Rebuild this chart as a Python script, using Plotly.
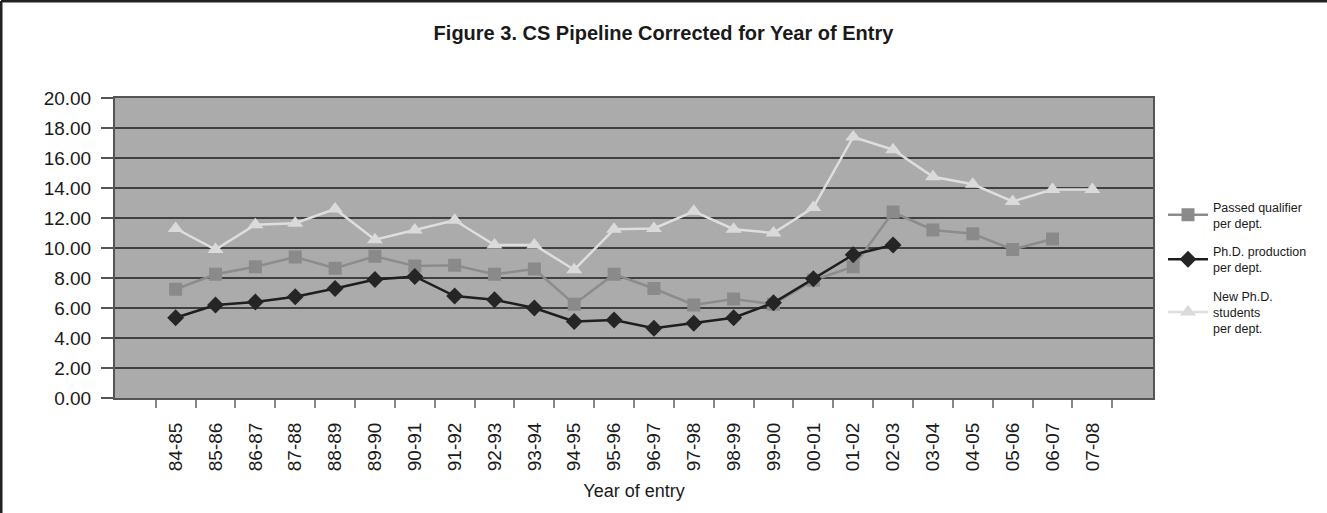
import plotly.graph_objects as go

categories = ["84-85", "85-86", "86-87", "87-88", "88-89", "89-90", "90-91", "91-92",
              "92-93", "93-94", "94-95", "95-96", "96-97", "97-98", "98-99", "99-00",
              "00-01", "01-02", "02-03", "03-04", "04-05", "05-06", "06-07", "07-08"]

passed_qualifier = [7.25, 8.25, 8.75, 9.4, 8.65, 9.45, 8.8, 8.85,
                    8.25, 8.6, 6.25, 8.25, 7.3, 6.2, 6.6, 6.25,
                    7.85, 8.75, 12.4, 11.2, 10.95, 9.9, 10.6, None]

phd_production = [5.35, 6.2, 6.4, 6.75, 7.3, 7.9, 8.1, 6.8,
                  6.55, 6.0, 5.1, 5.2, 4.65, 4.98, 5.35, 6.35,
                  7.95, 9.55, 10.2, None, None, None, None, None]

new_phd_students = [11.3, 9.9, 11.55, 11.65, 12.6, 10.55, 11.2, 11.85,
                    10.2, 10.2, 8.55, 11.25, 11.3, 12.45, 11.25, 11.0,
                    12.7, 17.4, 16.55, 14.75, 14.25, 13.1, 13.9, 13.9]

y_ticks = [0, 2, 4, 6, 8, 10, 12, 14, 16, 18, 20]

FONT = "Liberation Sans, Arial, Helvetica, sans-serif"

fig = go.Figure()
fig.add_trace(go.Scatter(
    x=categories, y=passed_qualifier, mode="lines+markers",
    name="Passed qualifier<br>per dept.", legendgroup="a",
    line=dict(color="#8c8c8c", width=2.5),
    marker=dict(symbol="square", size=13, color="#8a8a8a"),
))
fig.add_trace(go.Scatter(
    x=categories, y=phd_production, mode="lines+markers",
    name="Ph.D. production<br>per dept.", legendgroup="b",
    line=dict(color="#1e1e1e", width=2.5),
    marker=dict(symbol="diamond", size=13, color="#252525"),
))
fig.add_trace(go.Scatter(
    x=categories, y=new_phd_students, mode="lines+markers",
    name="New Ph.D.<br>students<br>per dept.", legendgroup="c",
    line=dict(color="#dedede", width=2.5),
    marker=dict(symbol="triangle-up", size=14, color="#dadada"),
))

L, R, T, B = 115, 174, 98, 115
W, H = 1327, 513
pw, ph = W - L - R, H - T - B

fig.update_layout(
    width=W, height=H,
    margin=dict(l=L, r=R, t=T, b=B, autoexpand=False),
    paper_bgcolor="white",
    plot_bgcolor="#ababab",
    font=dict(family=FONT, color="#1a1a1a"),
    title=dict(
        text="<b>Figure 3. CS Pipeline Corrected for Year of Entry</b>",
        x=0.5, xanchor="center", y=1 - 33 / H, yanchor="middle",
        font=dict(family=FONT, size=20, color="#1a1a1a"),
    ),
    showlegend=True,
    legend=dict(
        x=(1163 - L) / pw, xanchor="left",
        y=(398 - 192) / ph, yanchor="top",
        font=dict(size=12.5, family=FONT, color="#1a1a1a"),
        bgcolor="rgba(0,0,0,0)",
        itemwidth=40,
        tracegroupgap=9,
    ),
    xaxis=dict(
        type="category", categoryorder="array", categoryarray=categories,
        tickangle=-90, tickfont=dict(size=19, family=FONT),
        ticks="outside", ticklen=8, tickcolor="#888888", tickwidth=2,
        tickson="boundaries", ticklabelstandoff=15,
        showgrid=False, showline=True, linecolor="#555555", linewidth=2, mirror=True,
        title=dict(text="Year of entry", font=dict(size=18, family=FONT), standoff=14),
    ),
    yaxis=dict(
        range=[0, 20], tickvals=y_ticks, ticktext=[f"{v:.2f}" for v in y_ticks],
        tickfont=dict(size=19, family=FONT), ticklabelstandoff=6,
        ticks="outside", ticklen=12, tickcolor="#555555", tickwidth=2,
        showgrid=True, gridcolor="#404040", gridwidth=2,
        showline=True, linecolor="#555555", linewidth=2, mirror=True,
        zeroline=False,
    ),
)

# outer frame (top and left edges)
fig.add_shape(type="line", xref="paper", yref="paper",
              x0=(1 - L) / pw, x1=(W - L) / pw, y0=(398 - 1) / ph, y1=(398 - 1) / ph,
              line=dict(color="#222222", width=3))
fig.add_shape(type="line", xref="paper", yref="paper",
              x0=(1 - L) / pw, x1=(1 - L) / pw, y0=(398 - 1) / ph, y1=(398 - H) / ph,
              line=dict(color="#222222", width=3))

fig.write_html("out.html", config={"displayModeBar": False},
               post_script="document.body.style.margin='0';")
